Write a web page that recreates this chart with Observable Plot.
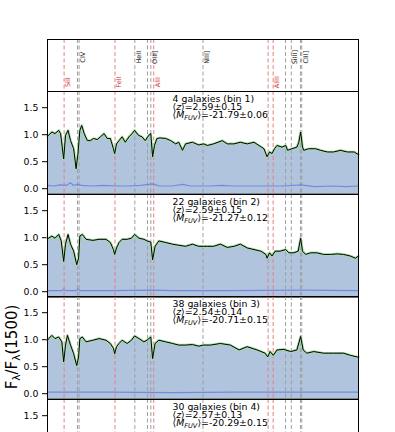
<!DOCTYPE html>
<html><head><meta charset="utf-8">
<script src="https://cdn.jsdelivr.net/npm/d3@7"></script>
<script src="https://cdn.jsdelivr.net/npm/@observablehq/plot@0.6"></script>
<style>
html,body{margin:0;padding:0;background:#fff;overflow:hidden;width:395px;height:432px;}
#chart{position:relative;width:395px;height:432px;font-family:"DejaVu Sans",sans-serif;}
#chart svg{position:absolute;left:0;overflow:visible;}
</style></head><body><div id="chart"></div>
<script>
// ---- line identifications ----
const lineWaves = [1526.7, 1548.2, 1550.8, 1608.5, 1640.4, 1660.8, 1666.1, 1670.8, 1750.0, 1854.7, 1862.8, 1882.7, 1892.0, 1906.7, 1908.7];
const lineKinds = ["red","gray","gray","red","gray","gray","gray","red","gray","red","red","gray","gray","gray","gray"];
const labelNames = ["SiII","CIV","FeII","HeII","OIII]","AlII","NIII]","AlIII","SiIII]","CIII]"];
const labelWaves = [1526.7, 1550.8, 1608.5, 1640.4, 1666.1, 1670.8, 1750.0, 1862.8, 1892.0, 1908.7];
const labelKinds = ["red","gray","red","gray","gray","red","gray","red","gray","gray"];

// ---- bin annotations ----
const binTitles = ["4 galaxies (bin 1)","22 galaxies (bin 2)","38 galaxies (bin 3)","30 galaxies (bin 4)"];
const binZ = ["2.59±0.15","2.59±0.15","2.54±0.14","2.57±0.13"];
const binM = ["-21.79±0.06","-21.27±0.12","-20.71±0.15","-20.29±0.15"];

// ---- spectra (rest wavelength in Å, normalised flux) ----
const wave1 = [1500,1502,1507,1512,1518,1521,1526,1529,1533,1537,1542,1546,1549,1552,1555,1559,1564,1569,1574,1580,1585,1591,1596,1601,1606,1608,1611,1615,1620,1625,1631,1636,1640,1646,1652,1657,1663,1666,1669,1672,1676,1681,1690,1698,1706,1711,1717,1722,1733,1743,1751,1757,1767,1781,1789,1800,1810,1821,1832,1840,1848,1853,1857,1861,1865,1869,1877,1883,1886,1893,1901,1904,1907,1910,1912,1920,1931,1939,1950,1960,1971,1982,1993,2000];
const flux1 = [0.97,0.99,1.05,1.02,1.08,1.02,0.55,0.99,1.08,0.89,0.74,0.37,0.65,1.08,1.17,1.02,0.89,0.89,0.93,0.91,0.96,1.02,0.93,0.93,0.74,0.65,0.83,0.89,0.96,0.86,0.96,1.02,1.08,0.99,0.96,0.89,0.99,1.02,0.59,0.80,0.93,0.94,0.93,0.89,0.83,0.86,0.71,0.83,0.86,0.81,0.83,0.80,0.83,0.89,0.83,0.83,0.86,0.83,0.86,0.80,0.74,0.59,0.68,0.65,0.74,0.80,0.77,0.80,0.71,0.74,0.77,0.86,1.05,0.77,0.71,0.74,0.74,0.71,0.68,0.68,0.71,0.68,0.68,0.63];
const noiseWave1 = [1500,1510,1520,1530,1537,1542,1548,1555,1570,1590,1610,1630,1650,1669,1680,1700,1718,1730,1760,1780,1800,1830,1855,1880,1907,1930,1960,1980,2000];
const noise1 = [0.06,0.05,0.07,0.06,0.11,0.06,0.08,0.06,0.05,0.06,0.05,0.05,0.06,0.09,0.05,0.05,0.08,0.05,0.05,0.06,0.05,0.05,0.05,0.05,0.07,0.04,0.05,0.04,0.05];

const wave2 = [1500,1502,1507,1512,1518,1522,1526,1529,1533,1537,1542,1547,1550,1552,1556,1562,1573,1583,1594,1601,1606,1608,1611,1615,1620,1628,1635,1640,1647,1655,1660,1666,1669,1673,1679,1690,1701,1711,1722,1733,1743,1751,1757,1767,1778,1789,1800,1810,1821,1832,1843,1851,1853,1857,1861,1866,1874,1883,1888,1896,1903,1907,1910,1915,1923,1933,1944,1955,1966,1976,1987,1995,2000];
const flux2 = [1.00,0.99,1.03,0.99,1.06,0.94,0.56,0.88,1.06,0.88,0.75,0.50,0.62,1.03,1.06,0.97,0.95,0.97,0.97,0.91,0.78,0.69,0.81,0.91,0.97,0.97,0.99,1.06,0.99,0.97,0.94,0.92,0.59,0.84,0.94,0.91,0.88,0.86,0.84,0.88,0.84,0.84,0.84,0.84,0.88,0.82,0.84,0.88,0.81,0.78,0.75,0.69,0.62,0.72,0.66,0.75,0.75,0.78,0.72,0.72,0.75,0.99,0.75,0.69,0.72,0.72,0.69,0.69,0.70,0.69,0.66,0.62,0.66];
const noiseWave2 = [1500,1524,1526,1529,1546,1549,1552,1600,1669,1700,1800,1907,2000];
const noise2 = [0.02,0.02,0.05,0.02,0.02,0.05,0.02,0.02,0.03,0.02,0.02,0.03,0.02];

const wave3 = [1500,1502,1507,1512,1518,1523,1526,1529,1532,1537,1542,1547,1550,1552,1556,1562,1573,1583,1594,1601,1606,1608,1611,1615,1620,1628,1635,1640,1647,1655,1660,1666,1669,1673,1679,1690,1701,1711,1722,1733,1743,1751,1762,1778,1794,1808,1821,1837,1850,1854,1858,1863,1869,1880,1891,1901,1907,1911,1917,1928,1944,1960,1976,1987,1998,2000];
const flux3 = [0.99,1.02,1.08,1.02,1.05,0.96,0.59,0.90,1.08,0.90,0.74,0.52,0.68,1.02,1.05,0.96,0.99,1.02,0.99,0.93,0.84,0.74,0.87,0.93,0.99,0.93,0.99,1.07,1.02,0.96,0.99,1.05,0.65,0.93,0.99,0.96,0.93,0.90,0.90,0.91,0.88,0.90,0.90,0.93,0.90,0.81,0.87,0.81,0.75,0.68,0.78,0.71,0.81,0.82,0.78,0.81,1.06,0.81,0.75,0.78,0.75,0.75,0.75,0.71,0.68,0.68];
const noiseWave3 = [1500,1600,1700,1800,1907,2000];
const noise3 = [0.03,0.03,0.02,0.03,0.03,0.03];

const spectra = [
  {w: wave1, f: flux1, nw: noiseWave1, n: noise1},
  {w: wave2, f: flux2, nw: noiseWave2, n: noise2},
  {w: wave3, f: flux3, nw: noiseWave3, n: noise3},
  null
];

// ---- layout ----
const W = 395, ML = 47, MR = 37;
const X_DOMAIN = [1500, 2000];
const Y_DOMAIN = [-0.1, 1.8];
const LABEL_TOP = 39, LABEL_H = 52;
const PANEL_TOP = 91, PANEL_H = 102.6;
const FONT = "DejaVu Sans";
const chart = document.getElementById("chart");

function lineRules() {
  return [
    Plot.ruleX(lineWaves.filter((w, i) => lineKinds[i] === "gray"), {stroke: "#a0a0a0", strokeWidth: 1, strokeDasharray: "4,2.5"}),
    Plot.ruleX(lineWaves.filter((w, i) => lineKinds[i] === "red"), {stroke: "#e58080", strokeWidth: 1, strokeDasharray: "4,2.5"})
  ];
}

function place(svg, top) {
  svg.style.top = top + "px";
  chart.appendChild(svg);
}

// label panel
const labels = labelNames.map((name, i) => ({name, w: labelWaves[i], kind: labelKinds[i]}));
const labelPlot = Plot.plot({
  width: W, height: LABEL_H + 2, marginTop: 1, marginBottom: 1, marginLeft: ML, marginRight: MR,
  style: {fontFamily: FONT, background: "transparent"},
  x: {domain: X_DOMAIN, axis: null},
  y: {domain: [0, 1], axis: null},
  marks: [
    ...lineRules(),
    Plot.text(labels.filter(d => d.kind === "gray"), {x: "w", y: () => 0.66, text: "name", rotate: -90, dx: 4, fill: "#222", fontSize: 6.5}),
    Plot.text(labels.filter(d => d.kind === "red"), {x: "w", y: () => 0.18, text: "name", rotate: -90, dx: 4, fill: "#d63a3a", fontSize: 6.5}),
    Plot.frame({stroke: "black", strokeWidth: 1})
  ]
});
place(labelPlot, LABEL_TOP - 1);

function styleAnnotations(svg) {
  d3.select(svg).selectAll("text").each(function() {
    const t = this.textContent;
    const sel = d3.select(this);
    if (t.startsWith("⟨z⟩")) {
      const rest = t.slice(3);
      sel.text(null);
      sel.append("tspan").text("⟨");
      sel.append("tspan").attr("font-style", "italic").text("z");
      sel.append("tspan").text("⟩" + rest);
    } else if (t.startsWith("⟨M_FUV⟩")) {
      const rest = t.slice(7);
      sel.text(null);
      sel.append("tspan").text("⟨");
      sel.append("tspan").attr("font-style", "italic").text("M");
      sel.append("tspan").attr("font-style", "italic").attr("font-size", "6.6px").attr("dy", "1.8").text("FUV");
      sel.append("tspan").attr("dy", "-1.8").text("⟩" + rest);
    }
  });
}

for (let k = 0; k < 4; k++) {
  const top = PANEL_TOP + k * PANEL_H;
  const sp = spectra[k];
  const marks = [];
  let s = null, nz = null;
  if (sp) {
    s = sp.w.map((w, i) => ({w, f: sp.f[i]}));
    nz = sp.nw.map((w, i) => ({w, n: sp.n[i]}));
    marks.push(Plot.areaY(s, {x: "w", y1: Y_DOMAIN[0], y2: "f", fill: "#b0c4de"}));
  }
  marks.push(...lineRules());
  if (sp) {
    marks.push(Plot.line(nz, {x: "w", y: "n", stroke: "#6b7fe3", strokeWidth: 1.2, strokeOpacity: 0.85}));
    marks.push(Plot.line(s, {x: "w", y: "f", stroke: "#a6dca6", strokeWidth: 2.6}));
    marks.push(Plot.line(s, {x: "w", y: "f", stroke: "black", strokeWidth: 1}));
  }
  const common = {frameAnchor: "top-left", dx: 125, fontSize: 9.4, lineAnchor: "top", fill: "black"};
  marks.push(Plot.text([binTitles[k]], {...common, dy: 3.8}));
  marks.push(Plot.text(["⟨z⟩=" + binZ[k]], {...common, dy: 12.0}));
  marks.push(Plot.text(["⟨M_FUV⟩=" + binM[k]], {...common, dy: 20.3}));
  marks.push(Plot.frame({stroke: "black", strokeWidth: 1}));
  const p = Plot.plot({
    width: W, height: PANEL_H + 2, marginTop: 1, marginBottom: 1, marginLeft: ML, marginRight: MR,
    style: {fontFamily: FONT, fontSize: "9.4px", background: "transparent"},
    x: {domain: X_DOMAIN, axis: null},
    y: {domain: Y_DOMAIN, ticks: 4, tickFormat: ".1f", tickSize: 5, tickPadding: 4, label: null},
    marks
  });
  styleAnnotations(p);
  place(p, top - 1);
}

// y-axis label
const ysvg = d3.create("svg").attr("width", 30).attr("height", 432).style("top", "0px");
const yt = ysvg.append("text")
  .attr("transform", "translate(17,347) rotate(-90)")
  .attr("text-anchor", "middle")
  .attr("font-family", FONT)
  .attr("font-size", 15)
  .attr("fill", "black");
yt.append("tspan").text("F");
yt.append("tspan").attr("font-size", 10.5).attr("dy", 3).text("λ");
yt.append("tspan").attr("dy", -3).text("/F");
yt.append("tspan").attr("font-size", 10.5).attr("dy", 3).text("λ");
yt.append("tspan").attr("dy", -3).text("(1500)");
chart.appendChild(ysvg.node());
</script>
</body></html>
